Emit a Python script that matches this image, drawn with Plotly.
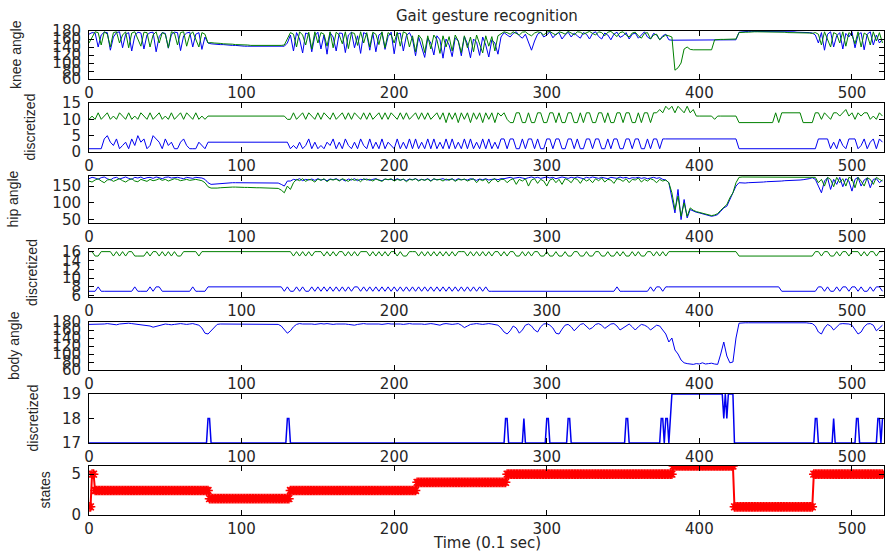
import plotly.graph_objects as go

# ---------------- data ----------------
t = list(range(0, 521, 2))  # sample times (0.1 s units), shared by the analog / discretized series

knee_blue = [
    172,176,175,140,170,177,176,132,165,176, 178,138,172,176,130,168,177,175,135,170,
    176,177,128,166,176,174,137,171,177,176, 131,168,175,177,140,172,176,134,165,150,
    148,147,147,146,146,145,145,144,144,143, 143,142,142,142,141,141,141,141,141,141,
    141,141,142,142,142,150,
    170,130,176,160,125,175,172,128,168,177, 135,170,122,176,165,130,175,174,126,170,
    177,138,168,124,176,172,132,175,128,170, 176,134,166,177,123,172,175,130,168,176,
    160,118,165,140,114,162,150,120,168,158, 112,160,145,116,163,155,118,166,148,113,
    160,152,119,165,145,115,158,150,122,165,
    176,170,165,174,178,168,162,172,150,132, 155,172,177,165,170,178,163,172,176,160,
    170,177,165,175,168,162,176,172,160,174, 178,166,160,175,170,158,172,177,164,168,
    176,160,172,175,162,170,178,165,160,174, 170,158,168,172,158,
    157,157,157,157,157,157,157,157,157,157, 157,157,157,157,157,157,157,157,157,157,
    157,158,
    177,178,178,179,179,179,179,179,179,178, 178,178,178,178,178,178,178,178,178,177,
    177,177,176,176,175,
    170,150,176,132,172,178,140,168,176,135, 174,165,178,138,170,176,133,172,178,145,
    170,150,160]

knee_green = [
    150,165,178,176,145,178,172,140,176,178, 150,170,178,138,175,178,160,142,177,176,
    140,170,178,150,176,172,138,178,175,145, 176,178,142,170,178,160,140,176,172,150,
    151,150,150,149,148,148,147,147,146,146, 145,145,145,144,144,144,143,143,143,143,
    143,144,144,144,145,160,
    176,172,140,178,170,145,177,135,178,150, 176,172,142,178,138,177,170,148,178,136,
    176,174,144,178,150,176,140,177,172,146, 178,138,176,170,150,177,142,178,174,140,
    168,128,170,160,126,168,135,170,158,124, 168,140,166,130,170,155,126,168,138,165,
    128,170,150,125,168,142,166,130,168,172,
    178,176,172,178,175,170,177,178,172,168, 175,178,176,170,177,179,174,170,178,176,
    172,179,175,170,178,177,172,176,179,174, 170,178,176,168,177,179,172,166,176,178,
    170,165,175,177,168,162,174,176,160,170, 172,158,165,170,168,
    165,82,88,100,135,140,134,133,133,133, 133,133,133,133,158,159,159,159,159,159,
    159,160,
    176,177,177,177,178,178,178,178,178,178, 177,177,177,177,177,177,176,176,176,176,
    176,175,175,175,174,
    176,172,145,178,160,140,176,172,150,178, 142,176,170,148,178,140,175,170,145,178,
    155,176,150]

disc1_green = [
    10,11,10,12,10,11,12,10,11,10, 12,11,10,12,10,11,10,12,11,10,
    12,10,11,12,10,11,10,12,10,11, 12,10,12,11,10,12,10,11,10,11,
    11,11,11,11,11,11,11,11,11,11, 11,11,11,11,11,11,11,11,11,11,
    11,11,11,11,11,10,
    10,12,10,11,12,10,12,11,10,12, 10,12,11,10,12,10,11,12,10,12,
    10,12,11,10,12,10,12,10,11,12, 10,12,10,12,11,10,12,10,12,10,
    11,12,10,12,10,12,10,11,12,10, 12,9,12,10,12,9,12,10,12,9,
    12,10,12,9,12,10,12,9,12,11,
    12,10,9,9,12,12,9,9,12,9, 9,12,12,9,9,12,12,9,12,9,
    9,12,12,9,9,12,9,12,12,9, 9,12,12,9,12,9,9,12,12,9,
    12,12,9,9,12,9,12,12,9,12, 12,13,12,14,13,
    14,12,14,13,12,14,12,13,11,11, 11,11,11,11,10,11,11,11,11,11,
    11,11,
    9,9,9,9,9,9,9,9,9,9, 9,9,12,9,12,12,12,12,12,12,
    12,9,9,9,9,
    12,12,10,12,11,10,12,12,11,12, 13,11,12,10,12,11,12,12,10,11,
    10,12,11]

disc1_blue = [
    1,1,1,1,1,4,5,3,2,4, 1,2,3,1,4,2,5,3,4,1,
    2,5,4,3,1,4,2,3,1,1, 3,4,2,1,1,1,3,2,1,3,
    3,3,3,3,3,3,3,3,3,3, 3,3,3,3,3,3,3,3,3,3,
    3,3,3,3,3,3,
    1,2,1,3,1,2,4,1,3,1, 2,1,3,2,4,1,3,1,4,2,
    1,3,1,4,2,1,4,1,3,1, 4,1,3,2,1,4,1,3,1,4,
    1,4,1,3,1,4,1,4,1,3, 1,4,1,4,1,3,1,4,1,4,
    1,3,1,4,1,4,1,3,1,4,
    4,1,4,4,1,1,4,1,4,4, 1,4,1,1,4,4,1,4,4,1,
    1,4,4,1,4,1,1,4,4,1, 4,4,1,1,4,1,4,4,1,1,
    4,4,1,4,4,1,1,4,1,4, 4,1,4,4,4,
    4,4,4,4,4,4,4,4,4,4, 4,4,4,4,4,4,4,4,4,4,
    4,4,
    1,1,1,1,1,1,1,1,1,1, 1,1,1,1,1,1,1,1,1,1,
    1,1,1,1,1,
    1,4,4,4,4,1,3,1,4,2, 1,4,4,4,1,2,4,1,3,4,
    1,4,3]

hip_blue = [
    172,176,174,170,175,177,172,168,174,176, 171,175,177,173,170,176,174,177,172,175,
    176,173,177,175,172,176,177,174,175,176, 174,172,176,175,173,176,175,174,170,160,
    155,156,157,158,158,159,159,160,160,160, 160,160,160,160,160,160,160,160,160,160,
    160,160,159,155,150,165,
    165,170,168,172,166,170,168,171,167,172, 168,170,166,171,169,172,167,170,165,171,
    168,172,166,170,169,171,167,170,172,168, 166,171,169,170,167,172,168,170,166,171,
    169,172,167,170,168,172,166,171,169,170, 172,168,170,171,167,172,169,170,168,172,
    170,167,171,169,172,168,170,171,169,172,
    172,174,176,173,175,176,174,172,175,177, 174,176,173,175,177,174,176,172,175,177,
    175,173,176,174,177,175,172,176,174,177, 175,173,176,174,172,176,175,173,177,174,
    176,172,175,174,176,173,175,172,174,176, 173,175,170,168,160,
    120,70,140,50,110,55,80,75,72,70, 68,65,62,60,62,65,75,85,90,110,
    125,150,
    160,159,159,160,160,161,161,162,162,163, 163,164,164,165,165,166,166,167,167,168,
    168,169,170,172,175,
    170,150,130,165,175,140,170,155,176,148, 172,165,135,170,176,150,168,174,145,170,
    172,160,168]

hip_green = [
    165,162,168,172,165,160,168,170,164,168, 172,166,162,168,172,165,163,170,168,164,
    170,166,168,172,167,170,165,168,172,170, 166,168,170,167,169,170,168,166,160,148,
    144,143,144,145,146,146,147,147,147,146, 146,146,146,145,145,145,145,145,145,145,
    144,144,143,138,130,150,
    140,160,170,166,172,164,170,168,162,171, 167,172,163,170,168,171,165,172,169,164,
    171,167,170,163,172,168,170,165,171,168, 164,171,169,172,165,170,167,171,163,170,
    168,172,165,170,167,171,164,172,168,170, 165,171,167,172,164,170,168,171,165,169,
    172,160,170,166,171,158,168,172,162,170,
    170,160,168,172,155,170,165,172,150,168, 172,158,170,165,150,168,172,160,170,155,
    172,168,160,173,170,158,172,165,170,160, 172,166,174,162,170,168,158,172,170,164,
    172,160,170,168,174,162,170,165,172,168, 160,170,165,168,160,
    130,80,120,60,100,60,85,78,74,72, 70,67,64,62,64,68,78,88,95,115,
    130,160,
    176,177,177,177,177,178,178,178,178,178, 178,178,178,178,178,178,178,178,177,177,
    177,177,177,177,176,
    176,160,170,150,176,170,148,176,160,172, 150,176,172,145,176,165,150,175,170,155,
    176,170,165]

disc2_green = [
    16,16,15,15,16,16,16,16,15,16, 15,16,15,16,16,15,15,15,15,16,
    15,16,16,15,16,15,16,15,16,15, 15,16,16,16,16,16,15,16,16,16,
    16,16,16,16,16,16,16,16,16,16, 16,16,16,16,16,16,16,16,16,16,
    16,16,16,16,16,16,
    16,15,16,15,16,15,16,15,16,16, 16,15,16,15,16,15,16,16,15,16,
    15,16,15,16,16,16,15,16,15,16, 15,16,15,16,16,15,16,15,15,16,
    16,16,15,16,15,16,15,16,15,16, 15,16,15,16,15,16,16,16,15,16,
    15,16,15,16,15,16,15,16,16,15,
    16,15,16,16,15,15,16,15,16,15, 16,16,15,15,16,15,15,16,15,15,
    16,15,15,16,16,15,15,16,15,15, 16,16,15,15,16,15,15,16,15,16,
    15,15,16,15,16,15,15,16,16,15, 16,15,16,15,16,
    16,16,16,16,16,16,16,16,16,16, 16,16,16,16,16,16,16,16,16,16,
    16,16,
    15,15,15,15,15,15,15,15,15,15, 15,15,15,15,15,15,15,15,15,15,
    15,15,15,15,15,
    16,16,15,16,16,15,15,16,15,16, 16,15,16,16,16,15,16,15,16,16,
    15,16,16]

disc2_blue = [
    7,7,7,8,7,7,7,7,7,7, 7,7,7,7,7,8,7,7,7,7,
    8,7,8,8,7,7,7,7,7,7, 7,7,7,7,8,7,7,7,7,8,
    8,8,8,8,8,8,8,8,8,8, 8,8,8,8,8,8,8,8,8,8,
    8,8,8,8,7,8,
    7,7,8,7,8,7,7,8,7,8, 7,8,7,8,7,8,7,8,7,8,
    7,8,8,7,8,7,8,7,8,7, 8,7,8,7,8,7,8,7,8,7,
    8,7,8,7,8,7,8,7,8,7, 8,7,8,7,8,7,8,7,8,7,
    8,7,8,7,8,7,7,7,7,7,
    7,7,7,7,7,7,7,7,7,7, 7,7,7,7,7,7,7,7,7,7,
    7,7,7,7,7,7,7,7,7,7, 7,7,7,7,7,7,7,8,7,7,
    7,7,7,7,7,7,7,7,8,7, 8,8,7,8,8,
    8,8,8,8,8,8,8,8,8,8, 8,8,8,8,8,8,8,8,8,8,
    8,8,
    8,8,8,8,8,8,8,8,8,8, 8,8,8,8,7,7,7,7,7,7,
    7,7,7,7,7,
    7,8,8,7,8,7,7,8,7,8, 8,7,8,8,7,8,7,7,8,7,
    8,8,7]

body = [
    174,174,175,175,174,175,176,175,174,173, 175,176,177,177,176,175,175,174,173,172,
    170,167,169,172,174,175,174,173,174,175, 176,175,174,175,176,174,172,165,152,150,
    158,168,174,175,175,175,175,174,175,175, 175,175,175,175,175,175,175,175,175,175,
    175,175,174,170,160,152,
    158,168,174,176,175,175,176,175,174,175, 176,175,176,175,174,175,175,176,175,174,
    173,172,174,175,176,175,175,176,175,175, 174,175,176,175,175,176,175,174,175,176,
    175,175,176,175,174,175,176,175,174,172, 175,176,175,174,175,176,172,166,170,174,
    175,176,175,174,175,176,175,174,172,165,
    155,150,158,170,165,152,160,172,175,170, 160,155,168,175,176,172,165,152,150,162,
    172,174,168,158,165,174,176,170,162,166, 174,176,172,164,170,175,176,170,160,165,
    172,175,168,160,168,174,172,168,160,165, 172,170,160,150,130,
    140,110,100,85,78,76,75,74,76,75, 78,75,76,77,75,74,100,130,95,78,
    80,140,
    177,178,178,178,178,179,179,179,178,178, 179,179,179,179,179,179,178,178,179,179,
    179,178,178,177,176,
    170,155,150,165,174,170,160,168,175,176, 176,175,172,160,150,155,168,175,176,172,
    158,165,172]

# discretized body angle: samples around each change (elsewhere it stays at 17)
disc3_t = [0, 77,78,79,80, 129,130,131,132, 272,273,274,275, 284,285,286,
           299,300,301,302, 313,314,315,316, 351,352,353,354,
           374,375,376,377,378,379, 380,381,382, 415,416,417,418,419,420, 422,423,424,
           475,476,477,478, 487,488,489, 502,503,504,505, 516,517,518,519,520]
disc3_v = [17, 17,18,18,17, 17,18,18,17, 17,18,18,17, 17,18,17,
           17,18,18,17, 17,18,18,17, 17,18,18,17,
           17,18,18,17,18,18, 17,18,19, 19,18,19,18,19,19, 19,17,17,
           17,18,18,17, 17,18,17, 17,18,18,17, 17,18,18,17,18]

# recognised states: start time of each run and its state
state_start = [0, 2, 4, 79, 132, 215, 274, 383, 423, 475]
state_level = [1, 5, 3, 2, 3, 4, 5, 6, 1, 5]

x_ticks = [0, 100, 200, 300, 400, 500]

for name, arr in [("knee_blue", knee_blue), ("knee_green", knee_green), ("disc1_green", disc1_green),
                  ("disc1_blue", disc1_blue), ("hip_blue", hip_blue), ("hip_green", hip_green),
                  ("disc2_green", disc2_green), ("disc2_blue", disc2_blue), ("body", body)]:
    assert len(arr) == len(t), (name, len(arr))
assert len(disc3_t) == len(disc3_v)

state_t = list(range(0, 521))
state_v = []
for tt in state_t:
    lv = state_level[0]
    for s, l in zip(state_start, state_level):
        if tt >= s:
            lv = l
    state_v.append(lv)

# ---------------- figure ----------------
BLUE = "#0000f0"
GREEN = "#008000"
TICKFONT = dict(family="DejaVu Sans", size=15, color="#262626")

W, H = 886, 552
ML, MR, MT, MB = 89, 2, 31, 37
PH = H - MT - MB
panel_px = [(31, 79), (103, 152), (176, 223), (249, 297), (322, 370), (394, 443), (466, 515)]
y_ranges = [[60, 180], [0, 15], [40, 180], [5.7, 16.6], [60, 180], [17, 19], [0, 6]]
y_ticks = [[60, 80, 100, 120, 140, 160, 180], [0, 5, 10, 15], [50, 100, 150],
           [6, 8, 10, 12, 14, 16], [60, 80, 100, 120, 140, 160, 180], [17, 18, 19], [0, 5]]
y_titles = ["knee angle", "discretized", "hip angle", "discretized", "body angle", "discretized", "states"]
y_title_x = [16, 30, 13, 32, 14, 32, 44]

fig = go.Figure()

def add(x, y, k, **kw):
    fig.add_trace(go.Scatter(x=x, y=y, xaxis="x" if k == 1 else f"x{k}",
                             yaxis="y" if k == 1 else f"y{k}", showlegend=False, **kw))

add(t, knee_blue, 1, mode="lines", line=dict(color=BLUE, width=1))
add(t, knee_green, 1, mode="lines", line=dict(color=GREEN, width=1))
add(t, disc1_blue, 2, mode="lines", line=dict(color=BLUE, width=1))
add(t, disc1_green, 2, mode="lines", line=dict(color=GREEN, width=1))
add(t, hip_blue, 3, mode="lines", line=dict(color=BLUE, width=1))
add(t, hip_green, 3, mode="lines", line=dict(color=GREEN, width=1))
add(t, disc2_blue, 4, mode="lines", line=dict(color=BLUE, width=1))
add(t, disc2_green, 4, mode="lines", line=dict(color=GREEN, width=1))
add(t, body, 5, mode="lines", line=dict(color=BLUE, width=1))
add(disc3_t, disc3_v, 6, mode="lines", line=dict(color=BLUE, width=1.5))
add(state_t, state_v, 7, mode="lines+markers", line=dict(color="red", width=2),
    marker=dict(symbol="asterisk-open", size=8, color="red", line=dict(color="red", width=1.5)))

layout = dict(width=W, height=H, margin=dict(l=ML, r=MR, t=MT, b=MB),
              plot_bgcolor="white", paper_bgcolor="white", showlegend=False)
annotations = []
for i in range(7):
    k = i + 1
    top, bot = panel_px[i]
    dom = [(H - MB - bot) / PH, (H - MB - top) / PH]
    xa = dict(domain=[0, 1], anchor="y" if k == 1 else f"y{k}", range=[0, 521],
              tickvals=x_ticks, ticks="inside", ticklen=5, tickcolor="black",
              showline=True, linecolor="black", linewidth=1, mirror="ticks",
              showgrid=False, zeroline=False, tickfont=TICKFONT)
    ya = dict(domain=dom, anchor="x" if k == 1 else f"x{k}", range=y_ranges[i],
              tickvals=y_ticks[i], ticks="inside", ticklen=5, tickcolor="black",
              showline=True, linecolor="black", linewidth=1, mirror="ticks",
              showgrid=False, zeroline=False, tickfont=TICKFONT, ticklabelstandoff=4)
    layout["xaxis" if k == 1 else f"xaxis{k}"] = xa
    layout["yaxis" if k == 1 else f"yaxis{k}"] = ya
    annotations.append(dict(text=y_titles[i], textangle=-90, xref="paper", yref="paper",
                            x=(y_title_x[i] - ML) / (W - ML - MR), y=(dom[0] + dom[1]) / 2,
                            showarrow=False, xanchor="center", yanchor="middle",
                            font=dict(family="Liberation Sans", size=14, color="#262626")))

annotations.append(dict(text="Gait gesture recognition", xref="paper", yref="paper",
                        x=0.5, y=1 + 15 / PH, showarrow=False, xanchor="center", yanchor="middle",
                        font=dict(family="DejaVu Sans", size=15, color="#262626")))
annotations.append(dict(text="Time (0.1 sec)", xref="paper", yref="paper",
                        x=0.5, y=-28 / PH, showarrow=False, xanchor="center", yanchor="middle",
                        font=dict(family="DejaVu Sans", size=15, color="#262626")))
layout["annotations"] = annotations
fig.update_layout(**layout)

fig.write_html("out.html")
